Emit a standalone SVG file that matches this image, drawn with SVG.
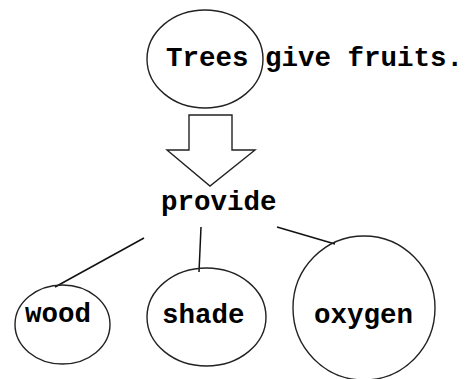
<svg xmlns="http://www.w3.org/2000/svg" width="472" height="379" viewBox="0 0 472 379">
<style>
.shape{fill:none;stroke:#222;stroke-width:1.4}
.lbl{font-family:"Liberation Mono","Courier New",monospace;font-weight:bold;font-size:27.5px;fill:#000}
.conn{stroke:#111;stroke-width:1.5;fill:none}
</style>
<rect width="472" height="379" fill="#fff"/>
<g id="trees">
<ellipse class="shape" cx="205" cy="59" rx="58" ry="49"/>
<text class="lbl" x="166" y="66">Trees give fruits.</text>
</g>
<g id="arrow">
<polygon class="shape" points="189,115 232,115 232,150 255,150 210,186 167,150 189,150"/>
</g>
<g id="provide">
<text class="lbl" x="161" y="210">provide</text>
</g>
<g id="connectors">
<line class="conn" x1="144" y1="238" x2="55" y2="287"/>
<line class="conn" x1="201" y1="227" x2="199" y2="272"/>
<line class="conn" x1="277" y1="227" x2="335" y2="244"/>
</g>
<g id="wood">
<ellipse class="shape" cx="62.5" cy="324.5" rx="47.5" ry="39.5"/>
<text class="lbl" x="25" y="322">wood</text>
</g>
<g id="shade">
<ellipse class="shape" cx="206.5" cy="317" rx="59.5" ry="49"/>
<text class="lbl" x="162" y="323">shade</text>
</g>
<g id="oxygen">
<ellipse class="shape" cx="364" cy="308" rx="71" ry="72"/>
<text class="lbl" x="314" y="323">oxygen</text>
</g>
</svg>
